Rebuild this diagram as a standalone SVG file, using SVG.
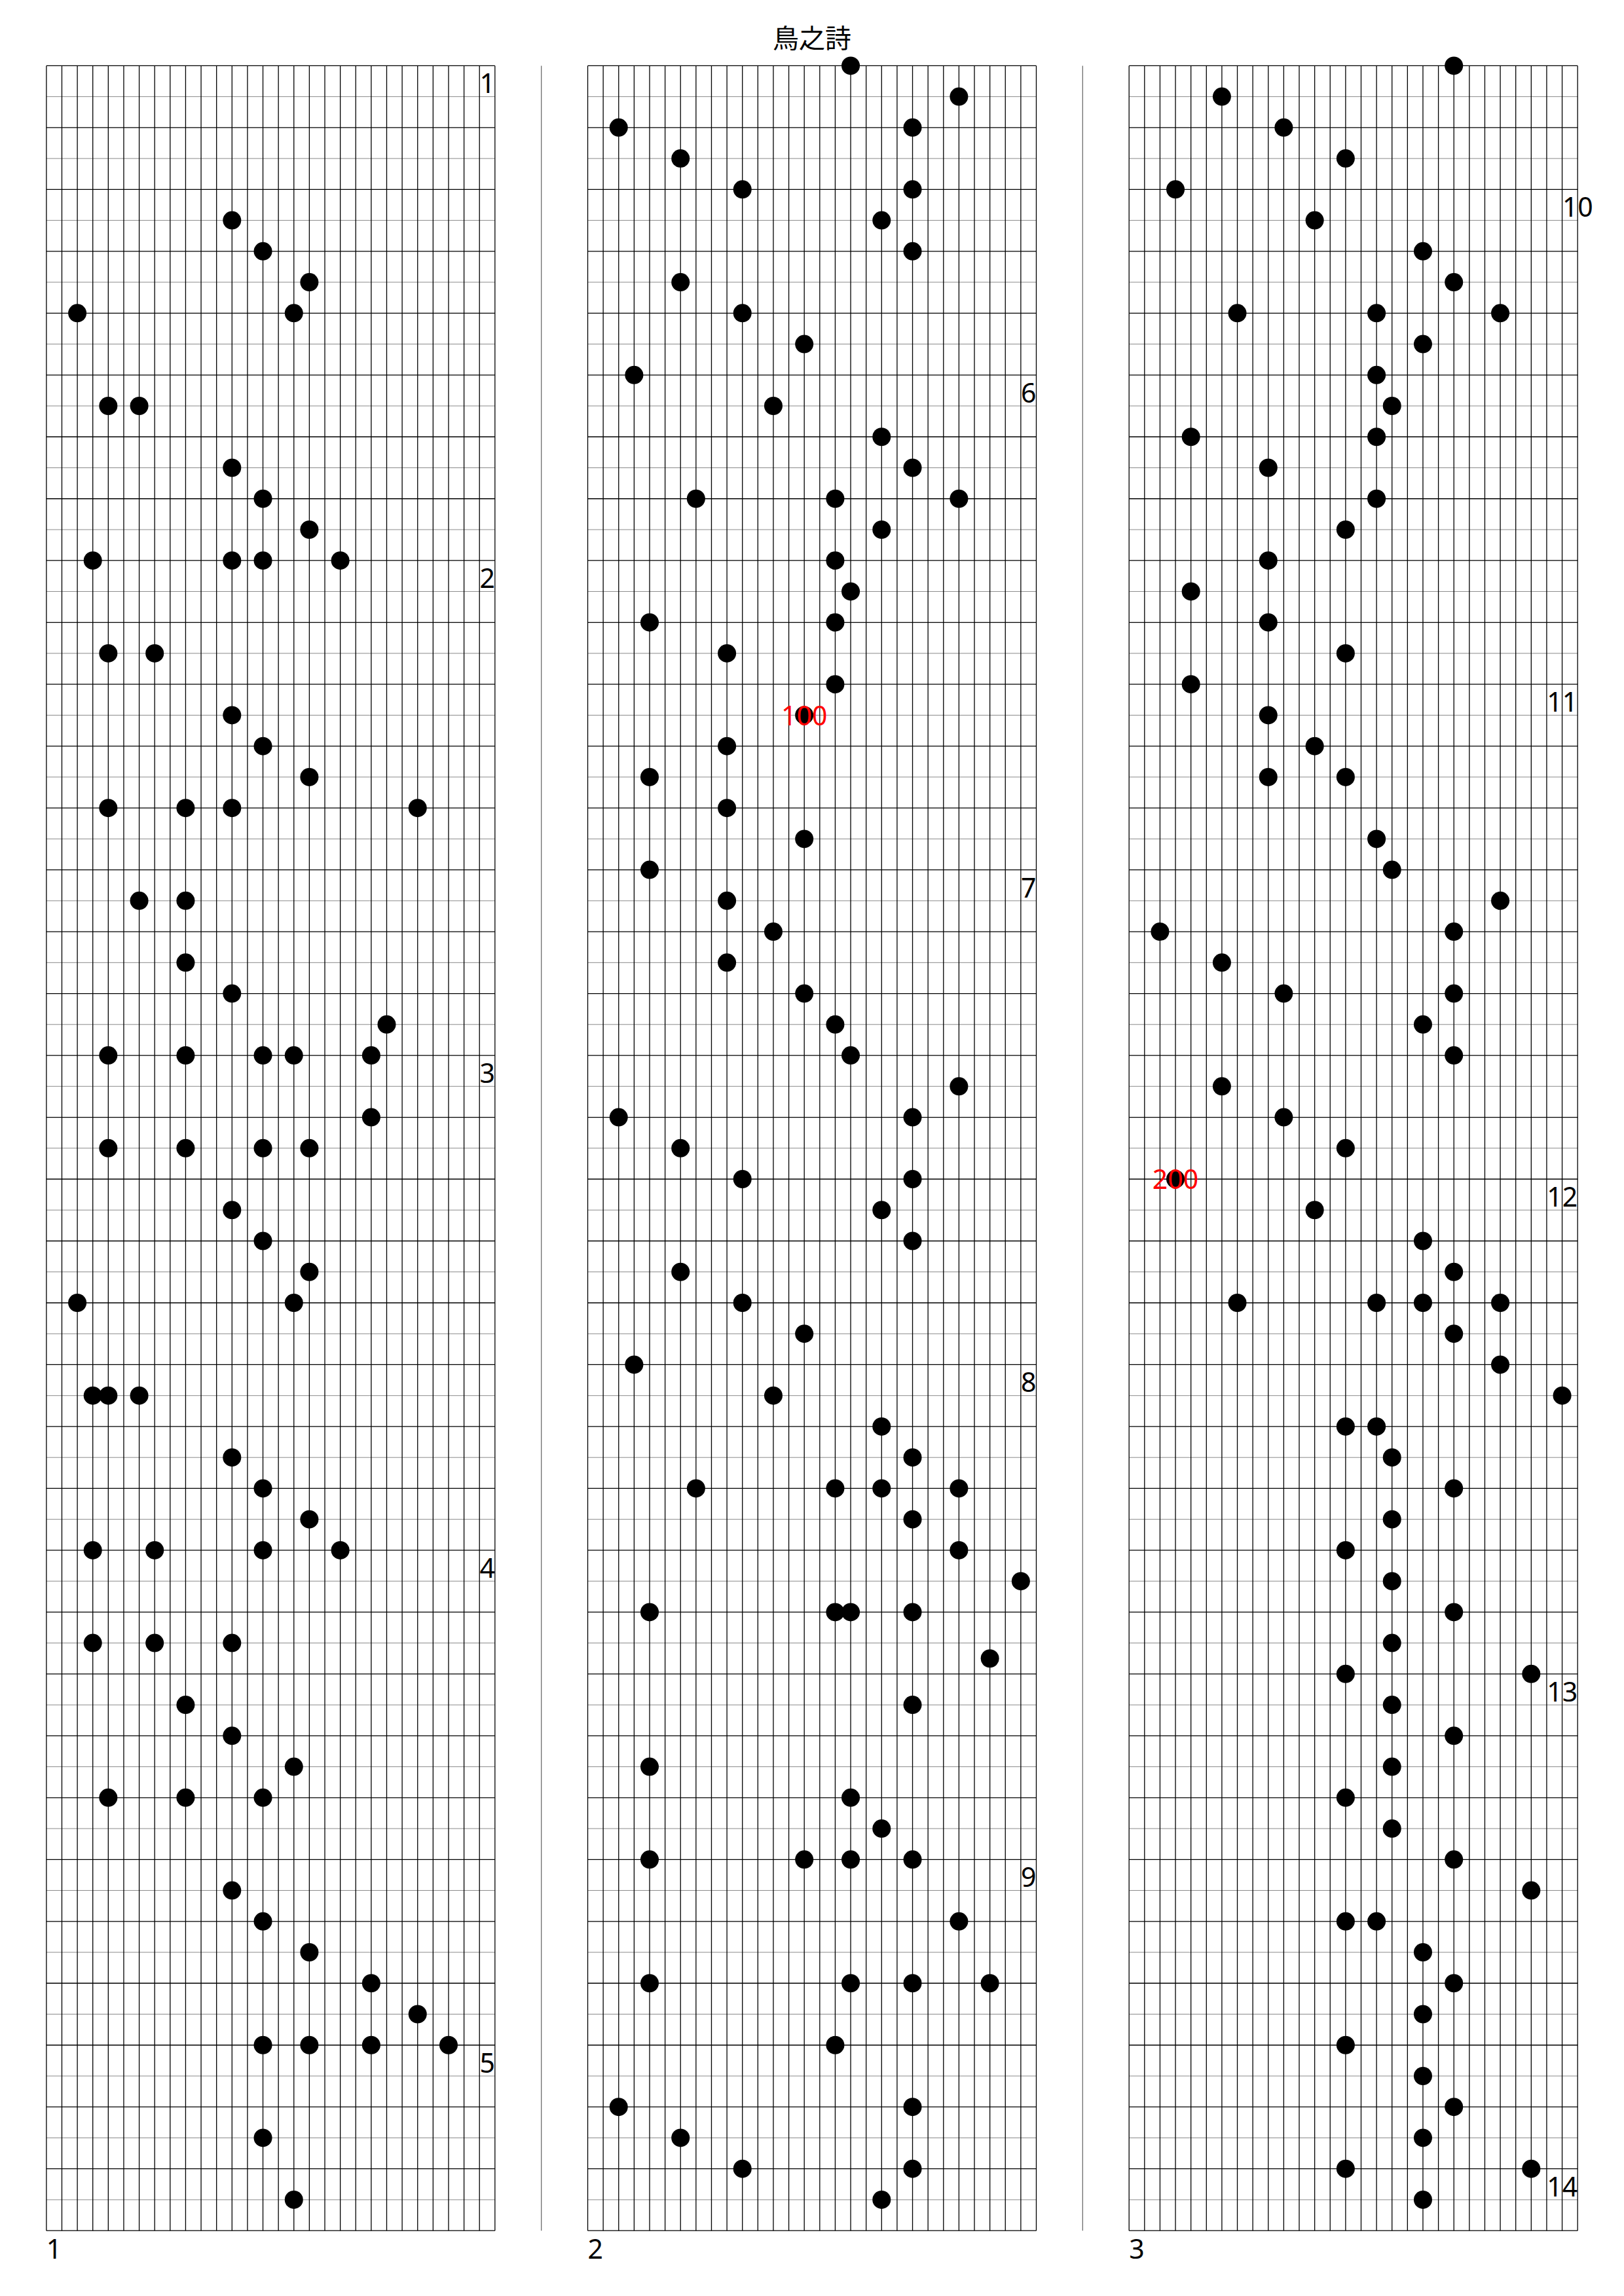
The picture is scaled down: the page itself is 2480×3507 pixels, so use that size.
<svg xmlns="http://www.w3.org/2000/svg" xmlns:xlink="http://www.w3.org/1999/xlink" width="2480" height="3507" viewBox="0 0 2480 3507">
<style>
.gh{stroke:#000;stroke-width:1.3;fill:none}
.gm{stroke:#8a8a8a;stroke-width:1;fill:none}
.gv{stroke:#000;stroke-width:1.3;fill:none}
.sep{stroke:#6e6e6e;stroke-width:1.3}
.dots{fill:#000}
.lbl{font-family:"Noto Sans","Liberation Sans",sans-serif;font-size:41px;fill:#000}
.num{text-anchor:end}
.red{fill:#ff0000;text-anchor:middle}
.title{font-family:"Noto Sans CJK JP","Noto Sans CJK TC","Noto Sans",sans-serif;font-size:40px;fill:#000;text-anchor:middle}
</style>
<defs>
<g id="grid">
<path class="gm" d="M0 47.24h684.98m-684.98 94.48h684.98m-684.98 94.48h684.98m-684.98 94.48h684.98m-684.98 94.48h684.98m-684.98 94.48h684.98m-684.98 94.48h684.98m-684.98 94.48h684.98m-684.98 94.48h684.98m-684.98 94.48h684.98m-684.98 94.48h684.98m-684.98 94.48h684.98m-684.98 94.48h684.98m-684.98 94.48h684.98m-684.98 94.48h684.98m-684.98 94.48h684.98m-684.98 94.48h684.98m-684.98 94.48h684.98m-684.98 94.48h684.98m-684.98 94.48h684.98m-684.98 94.48h684.98m-684.98 94.48h684.98m-684.98 94.48h684.98m-684.98 94.48h684.98m-684.98 94.48h684.98m-684.98 94.48h684.98m-684.98 94.48h684.98m-684.98 94.48h684.98m-684.98 94.48h684.98m-684.98 94.48h684.98m-684.98 94.48h684.98m-684.98 94.48h684.98m-684.98 94.48h684.98m-684.98 94.48h684.98m-684.98 94.48h684.98"/>
<path class="gh" d="M0 0h684.98m-684.98 94.48h684.98m-684.98 94.48h684.98m-684.98 94.48h684.98m-684.98 94.48h684.98m-684.98 94.48h684.98m-684.98 94.48h684.98m-684.98 94.48h684.98m-684.98 94.48h684.98m-684.98 94.48h684.98m-684.98 94.48h684.98m-684.98 94.48h684.98m-684.98 94.48h684.98m-684.98 94.48h684.98m-684.98 94.48h684.98m-684.98 94.48h684.98m-684.98 94.48h684.98m-684.98 94.48h684.98m-684.98 94.48h684.98m-684.98 94.48h684.98m-684.98 94.48h684.98m-684.98 94.48h684.98m-684.98 94.48h684.98m-684.98 94.48h684.98m-684.98 94.48h684.98m-684.98 94.48h684.98m-684.98 94.48h684.98m-684.98 94.48h684.98m-684.98 94.48h684.98m-684.98 94.48h684.98m-684.98 94.48h684.98m-684.98 94.48h684.98m-684.98 94.48h684.98m-684.98 94.48h684.98m-684.98 94.48h684.98m-684.98 94.48h684.98"/>
<path class="gv" d="M0 0v3306.8m23.62-3306.8v3306.8m23.62-3306.8v3306.8m23.62-3306.8v3306.8m23.62-3306.8v3306.8m23.62-3306.8v3306.8m23.62-3306.8v3306.8m23.62-3306.8v3306.8m23.62-3306.8v3306.8m23.62-3306.8v3306.8m23.62-3306.8v3306.8m23.62-3306.8v3306.8m23.62-3306.8v3306.8m23.62-3306.8v3306.8m23.62-3306.8v3306.8m23.62-3306.8v3306.8m23.62-3306.8v3306.8m23.62-3306.8v3306.8m23.62-3306.8v3306.8m23.62-3306.8v3306.8m23.62-3306.8v3306.8m23.62-3306.8v3306.8m23.62-3306.8v3306.8m23.62-3306.8v3306.8m23.62-3306.8v3306.8m23.62-3306.8v3306.8m23.62-3306.8v3306.8m23.62-3306.8v3306.8m23.62-3306.8v3306.8m23.62-3306.8v3306.8"/>
</g>
</defs>
<rect width="2480" height="3507" fill="#fff"/>
<text id="title" class="title" x="1240" y="73">鳥之詩</text>
<g id="separators">
<path class="sep" d="M826.67 100.38V3407.18M1653.33 100.38V3407.18"/>
</g>
<g id="strip1" transform="translate(70.86,100.38)">
<use xlink:href="#grid" href="#grid"/>
<g class="dots">
<circle cx="283.44" cy="236.2" r="14"/>
<circle cx="330.68" cy="283.44" r="14"/>
<circle cx="401.54" cy="330.68" r="14"/>
<circle cx="47.24" cy="377.92" r="14"/>
<circle cx="377.92" cy="377.92" r="14"/>
<circle cx="94.48" cy="519.64" r="14"/>
<circle cx="141.72" cy="519.64" r="14"/>
<circle cx="283.44" cy="614.12" r="14"/>
<circle cx="330.68" cy="661.36" r="14"/>
<circle cx="401.54" cy="708.6" r="14"/>
<circle cx="70.86" cy="755.84" r="14"/>
<circle cx="283.44" cy="755.84" r="14"/>
<circle cx="330.68" cy="755.84" r="14"/>
<circle cx="448.78" cy="755.84" r="14"/>
<circle cx="94.48" cy="897.56" r="14"/>
<circle cx="165.34" cy="897.56" r="14"/>
<circle cx="283.44" cy="992.04" r="14"/>
<circle cx="330.68" cy="1039.28" r="14"/>
<circle cx="401.54" cy="1086.52" r="14"/>
<circle cx="94.48" cy="1133.76" r="14"/>
<circle cx="212.58" cy="1133.76" r="14"/>
<circle cx="283.44" cy="1133.76" r="14"/>
<circle cx="566.88" cy="1133.76" r="14"/>
<circle cx="141.72" cy="1275.48" r="14"/>
<circle cx="212.58" cy="1275.48" r="14"/>
<circle cx="212.58" cy="1369.96" r="14"/>
<circle cx="283.44" cy="1417.2" r="14"/>
<circle cx="519.64" cy="1464.44" r="14"/>
<circle cx="94.48" cy="1511.68" r="14"/>
<circle cx="212.58" cy="1511.68" r="14"/>
<circle cx="330.68" cy="1511.68" r="14"/>
<circle cx="377.92" cy="1511.68" r="14"/>
<circle cx="496.02" cy="1511.68" r="14"/>
<circle cx="496.02" cy="1606.16" r="14"/>
<circle cx="94.48" cy="1653.4" r="14"/>
<circle cx="212.58" cy="1653.4" r="14"/>
<circle cx="330.68" cy="1653.4" r="14"/>
<circle cx="401.54" cy="1653.4" r="14"/>
<circle cx="283.44" cy="1747.88" r="14"/>
<circle cx="330.68" cy="1795.12" r="14"/>
<circle cx="401.54" cy="1842.36" r="14"/>
<circle cx="47.24" cy="1889.6" r="14"/>
<circle cx="377.92" cy="1889.6" r="14"/>
<circle cx="70.86" cy="2031.32" r="14"/>
<circle cx="94.48" cy="2031.32" r="14"/>
<circle cx="141.72" cy="2031.32" r="14"/>
<circle cx="283.44" cy="2125.8" r="14"/>
<circle cx="330.68" cy="2173.04" r="14"/>
<circle cx="401.54" cy="2220.28" r="14"/>
<circle cx="70.86" cy="2267.52" r="14"/>
<circle cx="165.34" cy="2267.52" r="14"/>
<circle cx="330.68" cy="2267.52" r="14"/>
<circle cx="448.78" cy="2267.52" r="14"/>
<circle cx="70.86" cy="2409.24" r="14"/>
<circle cx="165.34" cy="2409.24" r="14"/>
<circle cx="283.44" cy="2409.24" r="14"/>
<circle cx="212.58" cy="2503.72" r="14"/>
<circle cx="283.44" cy="2550.96" r="14"/>
<circle cx="377.92" cy="2598.2" r="14"/>
<circle cx="94.48" cy="2645.44" r="14"/>
<circle cx="212.58" cy="2645.44" r="14"/>
<circle cx="330.68" cy="2645.44" r="14"/>
<circle cx="283.44" cy="2787.16" r="14"/>
<circle cx="330.68" cy="2834.4" r="14"/>
<circle cx="401.54" cy="2881.64" r="14"/>
<circle cx="496.02" cy="2928.88" r="14"/>
<circle cx="566.88" cy="2976.12" r="14"/>
<circle cx="330.68" cy="3023.36" r="14"/>
<circle cx="401.54" cy="3023.36" r="14"/>
<circle cx="496.02" cy="3023.36" r="14"/>
<circle cx="614.12" cy="3023.36" r="14"/>
<circle cx="330.68" cy="3165.08" r="14"/>
<circle cx="377.92" cy="3259.56" r="14"/>
</g>
<g class="lbl num">
<text x="685" y="41.9">1</text>
<text x="685" y="797.74">2</text>
<text x="685" y="1553.58">3</text>
<text x="685" y="2309.42">4</text>
<text x="685" y="3065.26">5</text>
</g>
<text class="lbl" x="0" y="3349.3">1</text>
</g>
<g id="strip2" transform="translate(897.52,100.38)">
<use xlink:href="#grid" href="#grid"/>
<g class="dots">
<circle cx="401.54" cy="0" r="14"/>
<circle cx="566.88" cy="47.24" r="14"/>
<circle cx="47.24" cy="94.48" r="14"/>
<circle cx="496.02" cy="94.48" r="14"/>
<circle cx="141.72" cy="141.72" r="14"/>
<circle cx="236.2" cy="188.96" r="14"/>
<circle cx="496.02" cy="188.96" r="14"/>
<circle cx="448.78" cy="236.2" r="14"/>
<circle cx="496.02" cy="283.44" r="14"/>
<circle cx="141.72" cy="330.68" r="14"/>
<circle cx="236.2" cy="377.92" r="14"/>
<circle cx="330.68" cy="425.16" r="14"/>
<circle cx="70.86" cy="472.4" r="14"/>
<circle cx="283.44" cy="519.64" r="14"/>
<circle cx="448.78" cy="566.88" r="14"/>
<circle cx="496.02" cy="614.12" r="14"/>
<circle cx="165.34" cy="661.36" r="14"/>
<circle cx="377.92" cy="661.36" r="14"/>
<circle cx="566.88" cy="661.36" r="14"/>
<circle cx="448.78" cy="708.6" r="14"/>
<circle cx="377.92" cy="755.84" r="14"/>
<circle cx="401.54" cy="803.08" r="14"/>
<circle cx="94.48" cy="850.32" r="14"/>
<circle cx="377.92" cy="850.32" r="14"/>
<circle cx="212.58" cy="897.56" r="14"/>
<circle cx="377.92" cy="944.8" r="14"/>
<circle cx="330.68" cy="992.04" r="14"/>
<circle cx="212.58" cy="1039.28" r="14"/>
<circle cx="94.48" cy="1086.52" r="14"/>
<circle cx="212.58" cy="1133.76" r="14"/>
<circle cx="330.68" cy="1181" r="14"/>
<circle cx="94.48" cy="1228.24" r="14"/>
<circle cx="212.58" cy="1275.48" r="14"/>
<circle cx="283.44" cy="1322.72" r="14"/>
<circle cx="212.58" cy="1369.96" r="14"/>
<circle cx="330.68" cy="1417.2" r="14"/>
<circle cx="377.92" cy="1464.44" r="14"/>
<circle cx="401.54" cy="1511.68" r="14"/>
<circle cx="566.88" cy="1558.92" r="14"/>
<circle cx="47.24" cy="1606.16" r="14"/>
<circle cx="496.02" cy="1606.16" r="14"/>
<circle cx="141.72" cy="1653.4" r="14"/>
<circle cx="236.2" cy="1700.64" r="14"/>
<circle cx="496.02" cy="1700.64" r="14"/>
<circle cx="448.78" cy="1747.88" r="14"/>
<circle cx="496.02" cy="1795.12" r="14"/>
<circle cx="141.72" cy="1842.36" r="14"/>
<circle cx="236.2" cy="1889.6" r="14"/>
<circle cx="330.68" cy="1936.84" r="14"/>
<circle cx="70.86" cy="1984.08" r="14"/>
<circle cx="283.44" cy="2031.32" r="14"/>
<circle cx="448.78" cy="2078.56" r="14"/>
<circle cx="496.02" cy="2125.8" r="14"/>
<circle cx="165.34" cy="2173.04" r="14"/>
<circle cx="377.92" cy="2173.04" r="14"/>
<circle cx="448.78" cy="2173.04" r="14"/>
<circle cx="566.88" cy="2173.04" r="14"/>
<circle cx="496.02" cy="2220.28" r="14"/>
<circle cx="566.88" cy="2267.52" r="14"/>
<circle cx="661.36" cy="2314.76" r="14"/>
<circle cx="94.48" cy="2362" r="14"/>
<circle cx="377.92" cy="2362" r="14"/>
<circle cx="401.54" cy="2362" r="14"/>
<circle cx="496.02" cy="2362" r="14"/>
<circle cx="614.12" cy="2432.86" r="14"/>
<circle cx="496.02" cy="2503.72" r="14"/>
<circle cx="94.48" cy="2598.2" r="14"/>
<circle cx="401.54" cy="2645.44" r="14"/>
<circle cx="448.78" cy="2692.68" r="14"/>
<circle cx="94.48" cy="2739.92" r="14"/>
<circle cx="330.68" cy="2739.92" r="14"/>
<circle cx="401.54" cy="2739.92" r="14"/>
<circle cx="496.02" cy="2739.92" r="14"/>
<circle cx="566.88" cy="2834.4" r="14"/>
<circle cx="94.48" cy="2928.88" r="14"/>
<circle cx="401.54" cy="2928.88" r="14"/>
<circle cx="496.02" cy="2928.88" r="14"/>
<circle cx="614.12" cy="2928.88" r="14"/>
<circle cx="377.92" cy="3023.36" r="14"/>
<circle cx="47.24" cy="3117.84" r="14"/>
<circle cx="496.02" cy="3117.84" r="14"/>
<circle cx="141.72" cy="3165.08" r="14"/>
<circle cx="236.2" cy="3212.32" r="14"/>
<circle cx="496.02" cy="3212.32" r="14"/>
<circle cx="448.78" cy="3259.56" r="14"/>
</g>
<g class="lbl num">
<text x="685" y="514.3">6</text>
<text x="685" y="1270.14">7</text>
<text x="685" y="2025.98">8</text>
<text x="685" y="2781.82">9</text>
</g>
<text class="lbl red" x="330.68" y="1008">100</text>
<text class="lbl" x="0" y="3349.3">2</text>
</g>
<g id="strip3" transform="translate(1724.19,100.38)">
<use xlink:href="#grid" href="#grid"/>
<g class="dots">
<circle cx="496.02" cy="0" r="14"/>
<circle cx="141.72" cy="47.24" r="14"/>
<circle cx="236.2" cy="94.48" r="14"/>
<circle cx="330.68" cy="141.72" r="14"/>
<circle cx="70.86" cy="188.96" r="14"/>
<circle cx="283.44" cy="236.2" r="14"/>
<circle cx="448.78" cy="283.44" r="14"/>
<circle cx="496.02" cy="330.68" r="14"/>
<circle cx="165.34" cy="377.92" r="14"/>
<circle cx="377.92" cy="377.92" r="14"/>
<circle cx="566.88" cy="377.92" r="14"/>
<circle cx="448.78" cy="425.16" r="14"/>
<circle cx="377.92" cy="472.4" r="14"/>
<circle cx="401.54" cy="519.64" r="14"/>
<circle cx="94.48" cy="566.88" r="14"/>
<circle cx="377.92" cy="566.88" r="14"/>
<circle cx="212.58" cy="614.12" r="14"/>
<circle cx="377.92" cy="661.36" r="14"/>
<circle cx="330.68" cy="708.6" r="14"/>
<circle cx="212.58" cy="755.84" r="14"/>
<circle cx="94.48" cy="803.08" r="14"/>
<circle cx="212.58" cy="850.32" r="14"/>
<circle cx="330.68" cy="897.56" r="14"/>
<circle cx="94.48" cy="944.8" r="14"/>
<circle cx="212.58" cy="992.04" r="14"/>
<circle cx="283.44" cy="1039.28" r="14"/>
<circle cx="212.58" cy="1086.52" r="14"/>
<circle cx="330.68" cy="1086.52" r="14"/>
<circle cx="377.92" cy="1181" r="14"/>
<circle cx="401.54" cy="1228.24" r="14"/>
<circle cx="566.88" cy="1275.48" r="14"/>
<circle cx="47.24" cy="1322.72" r="14"/>
<circle cx="496.02" cy="1322.72" r="14"/>
<circle cx="141.72" cy="1369.96" r="14"/>
<circle cx="236.2" cy="1417.2" r="14"/>
<circle cx="496.02" cy="1417.2" r="14"/>
<circle cx="448.78" cy="1464.44" r="14"/>
<circle cx="496.02" cy="1511.68" r="14"/>
<circle cx="141.72" cy="1558.92" r="14"/>
<circle cx="236.2" cy="1606.16" r="14"/>
<circle cx="330.68" cy="1653.4" r="14"/>
<circle cx="70.86" cy="1700.64" r="14"/>
<circle cx="283.44" cy="1747.88" r="14"/>
<circle cx="448.78" cy="1795.12" r="14"/>
<circle cx="496.02" cy="1842.36" r="14"/>
<circle cx="165.34" cy="1889.6" r="14"/>
<circle cx="377.92" cy="1889.6" r="14"/>
<circle cx="448.78" cy="1889.6" r="14"/>
<circle cx="566.88" cy="1889.6" r="14"/>
<circle cx="496.02" cy="1936.84" r="14"/>
<circle cx="566.88" cy="1984.08" r="14"/>
<circle cx="661.36" cy="2031.32" r="14"/>
<circle cx="330.68" cy="2078.56" r="14"/>
<circle cx="377.92" cy="2078.56" r="14"/>
<circle cx="401.54" cy="2125.8" r="14"/>
<circle cx="496.02" cy="2173.04" r="14"/>
<circle cx="401.54" cy="2220.28" r="14"/>
<circle cx="330.68" cy="2267.52" r="14"/>
<circle cx="401.54" cy="2314.76" r="14"/>
<circle cx="496.02" cy="2362" r="14"/>
<circle cx="401.54" cy="2409.24" r="14"/>
<circle cx="330.68" cy="2456.48" r="14"/>
<circle cx="614.12" cy="2456.48" r="14"/>
<circle cx="401.54" cy="2503.72" r="14"/>
<circle cx="496.02" cy="2550.96" r="14"/>
<circle cx="401.54" cy="2598.2" r="14"/>
<circle cx="330.68" cy="2645.44" r="14"/>
<circle cx="401.54" cy="2692.68" r="14"/>
<circle cx="496.02" cy="2739.92" r="14"/>
<circle cx="614.12" cy="2787.16" r="14"/>
<circle cx="330.68" cy="2834.4" r="14"/>
<circle cx="377.92" cy="2834.4" r="14"/>
<circle cx="448.78" cy="2881.64" r="14"/>
<circle cx="496.02" cy="2928.88" r="14"/>
<circle cx="448.78" cy="2976.12" r="14"/>
<circle cx="330.68" cy="3023.36" r="14"/>
<circle cx="448.78" cy="3070.6" r="14"/>
<circle cx="496.02" cy="3117.84" r="14"/>
<circle cx="448.78" cy="3165.08" r="14"/>
<circle cx="330.68" cy="3212.32" r="14"/>
<circle cx="614.12" cy="3212.32" r="14"/>
<circle cx="448.78" cy="3259.56" r="14"/>
</g>
<g class="lbl num">
<text x="708.6" y="230.86">10</text>
<text x="685" y="986.7">11</text>
<text x="685" y="1742.54">12</text>
<text x="685" y="2498.38">13</text>
<text x="685" y="3254.22">14</text>
</g>
<text class="lbl red" x="70.86" y="1716">200</text>
<text class="lbl" x="0" y="3349.3">3</text>
</g>
</svg>
